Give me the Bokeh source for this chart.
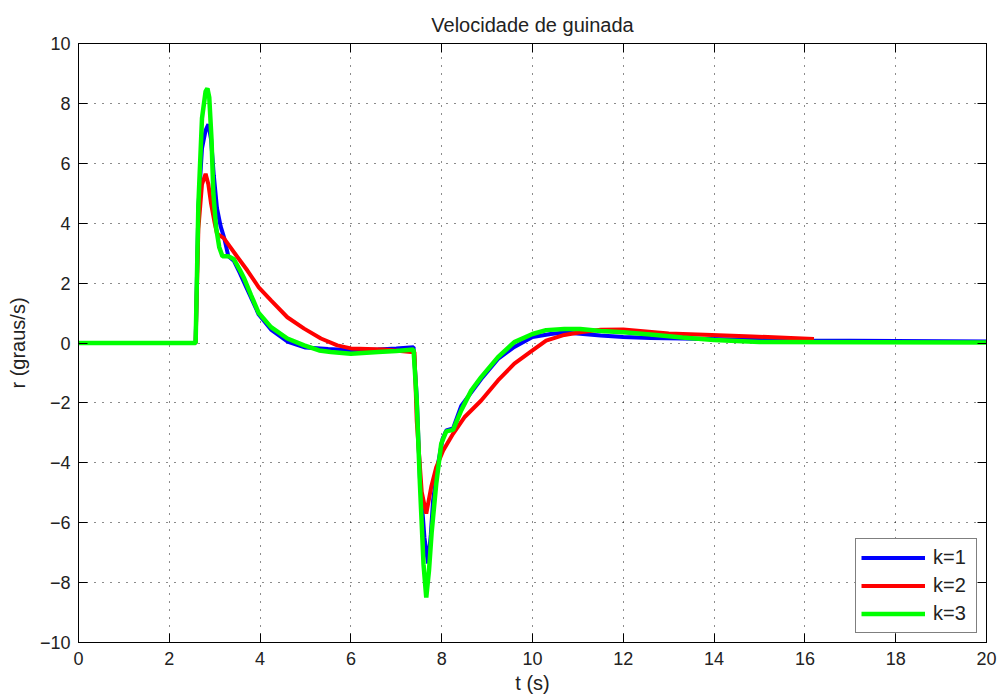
from bokeh.plotting import figure
from bokeh.models import LinearAxis, FixedTicker, Legend, LegendItem, Range1d, CustomJSTickFormatter
from bokeh.embed import file_html
from bokeh.resources import INLINE

# ---- data ----
x_ticks = [0, 2, 4, 6, 8, 10, 12, 14, 16, 18, 20]
y_ticks = [-10, -8, -6, -4, -2, 0, 2, 4, 6, 8, 10]

labels = ["k=1", "k=2", "k=3"]
colors = ["#0000FF", "#FF0000", "#00FF00"]

t_k1 = [0, 2.58, 2.64, 2.72, 2.80, 2.86, 2.92, 2.98, 3.05, 3.13, 3.21, 3.30, 3.42, 3.55, 3.70,
        3.97, 4.24, 4.60, 5.0, 5.5, 6.0, 6.6, 7.0, 7.38, 7.45, 7.52, 7.62, 7.70, 7.76, 7.81,
        7.92, 8.02, 8.10, 8.25, 8.43, 8.87, 9.24, 9.6, 10.0, 10.4, 10.7, 11.05, 11.5, 12.0,
        12.6, 13.3, 14.5, 16.0, 20.0]
r_k1 = [0, 0, 4.5, 6.5, 7.1, 7.3, 6.8, 5.6, 4.5, 3.9, 3.5, 2.9, 2.75, 2.35, 1.85,
        0.95, 0.45, 0.05, -0.15, -0.2, -0.24, -0.22, -0.18, -0.14, -1.8, -4.5, -6.5, -7.36, -6.4, -5.26,
        -4.03, -3.2, -2.92, -2.85, -2.1, -1.2, -0.53, -0.13, 0.2, 0.3, 0.35, 0.31, 0.25, 0.2,
        0.17, 0.15, 0.12, 0.08, 0.05]

t_k2 = [0, 2.58, 2.64, 2.72, 2.80, 2.86, 2.92, 3.0, 3.05, 3.2, 3.5, 3.72, 3.97, 4.24, 4.6,
        4.97, 5.34, 5.7, 6.0, 6.73, 7.33, 7.40, 7.45, 7.56, 7.66, 7.77, 7.88, 8.03, 8.25, 8.5,
        8.87, 9.24, 9.6, 10.0, 10.3, 10.7, 11.05, 11.5, 12.0, 13.0, 13.95, 14.84, 16.2]
r_k2 = [0, 0, 3.8, 5.3, 5.65, 5.3, 4.65, 4.0, 3.65, 3.5, 2.87, 2.42, 1.86, 1.42, 0.86,
        0.48, 0.15, -0.08, -0.18, -0.22, -0.3, -0.3, -2.6, -4.97, -5.7, -4.8, -4.15, -3.6, -3.03, -2.48,
        -1.92, -1.25, -0.69, -0.25, 0.08, 0.27, 0.36, 0.44, 0.45, 0.32, 0.27, 0.22, 0.13]

t_k3 = [0, 2.58, 2.64, 2.72, 2.80, 2.84, 2.88, 2.93, 2.97, 3.03, 3.10, 3.17, 3.30, 3.42, 3.55,
        3.65, 3.80, 3.97, 4.24, 4.60, 4.97, 5.30, 5.56, 6.00, 6.60, 7.00, 7.38, 7.45, 7.52, 7.60,
        7.66, 7.72, 7.78, 7.88, 7.99, 8.10, 8.25, 8.43, 8.65, 8.87, 9.24, 9.60, 10.0, 10.3, 10.7,
        11.05, 11.5, 12.0, 12.6, 13.3, 14.0, 15.0, 20.0]
r_k3 = [0, 0, 4.6, 7.5, 8.4, 8.5, 8.2, 6.8, 5.0, 3.87, 3.2, 2.9, 2.9, 2.8, 2.45,
        2.15, 1.6, 1.0, 0.53, 0.15, -0.08, -0.25, -0.3, -0.36, -0.3, -0.27, -0.22, -1.92, -4.7, -7.4,
        -8.5, -7.6, -6.3, -4.7, -3.36, -2.95, -2.9, -2.25, -1.59, -1.14, -0.47, 0.03, 0.3, 0.43, 0.47,
        0.47, 0.4, 0.36, 0.28, 0.18, 0.1, 0.03, 0.02]

series_t = [t_k1, t_k2, t_k3]
series_r = [r_k1, r_k2, r_k3]
widths = [4, 4, 4.5]

FONT = "Liberation Sans"
FS_TICK = "18px"
FS = "20px"
TXT = "#222222"

p = figure(width=999, height=698, x_range=Range1d(0, 20), y_range=Range1d(-10, 10),
           output_backend="svg", toolbar_location=None,
           min_border_left=78, min_border_right=13, min_border_top=43, min_border_bottom=56,
           x_axis_label="t (s)", y_axis_label="r (graus/s)")
p.background_fill_color = "white"
p.border_fill_color = "white"
p.outline_line_color = "black"
p.outline_line_width = 1

p.title.text = "Velocidade de guinada"
p.title.align = "center"
p.title.text_font = FONT
p.title.text_font_size = FS
p.title.text_font_style = "normal"
p.title.text_color = TXT
p.title.standoff = 15

p.xaxis.ticker = FixedTicker(ticks=x_ticks)
p.yaxis.ticker = FixedTicker(ticks=y_ticks)

for ax in [p.xaxis[0], p.yaxis[0]]:
    ax.major_tick_in = 9
    ax.major_tick_out = 0
    ax.minor_tick_in = 0
    ax.minor_tick_out = 0
    ax.axis_line_color = "black"
    ax.major_tick_line_color = "black"
    ax.major_label_text_font = FONT
    ax.major_label_text_font_size = FS_TICK
    ax.major_label_text_color = TXT
    ax.axis_label_text_font = FONT
    ax.axis_label_text_font_size = FS
    ax.axis_label_text_font_style = "normal"
    ax.axis_label_text_color = TXT

p.xaxis.major_label_standoff = 9
p.xaxis.axis_label_standoff = 4
p.yaxis.major_label_standoff = 8
p.yaxis.axis_label_standoff = 8

# mirrored axes (top, right) with inward ticks, no labels
blank = CustomJSTickFormatter(code="return ''")
top = LinearAxis(ticker=FixedTicker(ticks=x_ticks), major_tick_in=9, major_tick_out=0,
                 minor_tick_in=0, minor_tick_out=0, formatter=blank,
                 major_label_standoff=0, axis_line_color="black", major_tick_line_color="black")
right = LinearAxis(ticker=FixedTicker(ticks=y_ticks), major_tick_in=9, major_tick_out=0,
                   minor_tick_in=0, minor_tick_out=0, formatter=blank,
                   major_label_standoff=0, axis_line_color="black", major_tick_line_color="black")
p.add_layout(top, "above")
p.add_layout(right, "right")

for g in [p.xgrid[0], p.ygrid[0]]:
    g.grid_line_color = "black"
    g.grid_line_dash = "1 7"
    g.grid_line_width = 1
    g.grid_line_alpha = 0.9
p.xgrid.ticker = FixedTicker(ticks=x_ticks)
p.ygrid.ticker = FixedTicker(ticks=y_ticks)

items = []
for t, r, c, lab, w in zip(series_t, series_r, colors, labels, widths):
    rend = p.line(t, r, line_color=c, line_width=w)
    items.append(LegendItem(label=lab, renderers=[rend]))

legend = Legend(items=items, location="bottom_right", margin=9,
                border_line_color="black", border_line_width=1,
                background_fill_color="white", background_fill_alpha=1,
                label_text_font=FONT, label_text_font_size=FS, label_text_color=TXT,
                glyph_width=64, glyph_height=27, label_height=27, label_standoff=8,
                label_width=38, spacing=1, padding=5)
p.add_layout(legend, "center")

open("out.html", "w").write(file_html(p, INLINE))
